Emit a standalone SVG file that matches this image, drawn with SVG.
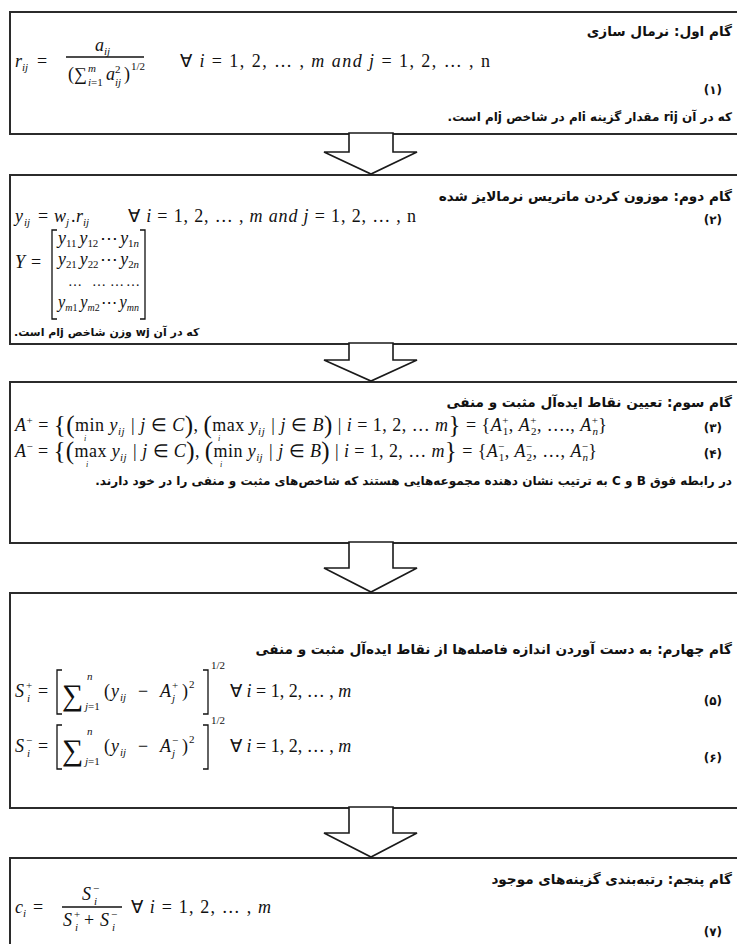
<svg xmlns="http://www.w3.org/2000/svg" width="737" height="944" viewBox="0 0 737 944">
<style>
.bg{fill:#fff}
.box{fill:none;stroke:#2b2b2b;stroke-width:2}
.arrow{fill:#fff;stroke:#1a1a1a;stroke-width:1.6;stroke-linejoin:miter}
.fa{font-family:"DejaVu Sans","Noto Sans",sans-serif;font-weight:bold;font-size:12px;fill:#111}
.t{font-size:13.6px}
.m{font-family:"Liberation Serif",serif;font-style:italic;font-size:18px;fill:#111}
.u{font-style:normal}
.s{font-size:11px}
.ss{font-size:8px}
.big{font-style:normal;font-size:25px}
.br{fill:none;stroke:#111;stroke-width:1.3}
</style>
<rect class="bg" x="0" y="0" width="737" height="944"/>

<g id="step1">
<rect class="box" x="10" y="12" width="740" height="122"/>
<text class="fa t" x="732" y="36" direction="rtl" text-anchor="start">گام اول: نرمال سازی</text>
<text class="m" x="15" y="67">r</text><text class="m s" x="22" y="71">ij</text>
<text class="m u" x="37" y="67">=</text>
<text class="m" x="95" y="51">a</text><text class="m s" x="104" y="55">ij</text>
<line class="br" x1="66" y1="57" x2="144" y2="57"/>
<text class="m u" x="68" y="80">(</text>
<text class="m u" x="74" y="80">∑</text>
<text class="m s" x="88" y="72">m</text>
<text class="m s" x="88" y="86">i<tspan class="u">=1</tspan></text>
<text class="m" x="106" y="80">a</text>
<text class="m s u" x="115" y="73">2</text>
<text class="m s" x="115" y="86">ij</text>
<text class="m u" x="124" y="80">)</text>
<text class="m s u" x="131" y="70">1/2</text>
<text class="m" x="180" y="67" textLength="310" lengthAdjust="spacing"><tspan class="u">∀</tspan> i <tspan class="u">= 1, 2, … ,</tspan> m  and  j <tspan class="u">= 1, 2, … , n</tspan></text>
<text class="fa" x="722" y="94" direction="rtl" text-anchor="start">(۱)</text>
<text class="fa" x="732" y="121" direction="rtl" text-anchor="start">که در آن rij مقدار گزینه iام در شاخص jام است.</text>
</g>

<g id="step2">
<rect class="box" x="10" y="175" width="740" height="169"/>
<text class="fa t" x="732" y="201" direction="rtl" text-anchor="start">گام دوم: موزون کردن ماتریس نرمالایز شده</text>
<text class="m" x="15" y="222">y</text><text class="m s" x="24" y="226">ij</text>
<text class="m u" x="38" y="222">=</text>
<text class="m" x="54" y="222">w</text><text class="m s" x="66" y="226">j</text>
<text class="m u" x="71" y="222">.</text>
<text class="m" x="76" y="222">r</text><text class="m s" x="83" y="226">ij</text>
<text class="m" x="128" y="222" textLength="288" lengthAdjust="spacing"><tspan class="u">∀</tspan> i <tspan class="u">= 1, 2, … ,</tspan> m  and  j <tspan class="u">= 1, 2, … , n</tspan></text>
<text class="fa" x="722" y="224" direction="rtl" text-anchor="start">(۲)</text>
<text class="m" x="15" y="268">Y</text><text class="m u" x="31" y="268">=</text>
<path class="br" d="M57,230 H52 V319 H57 M140,230 H145 V319 H140"/>
<text class="m" x="58" y="244" textLength="81" lengthAdjust="spacingAndGlyphs">y<tspan class="s u" dy="3">11</tspan><tspan dy="-3" dx="3">y</tspan><tspan class="s u" dy="3">12</tspan><tspan class="u" dy="-3" dx="2">⋯</tspan><tspan dx="2">y</tspan><tspan class="s" dy="3"><tspan class="u">1</tspan>n</tspan></text>
<text class="m" x="58" y="265" textLength="81" lengthAdjust="spacingAndGlyphs">y<tspan class="s u" dy="3">21</tspan><tspan dy="-3" dx="3">y</tspan><tspan class="s u" dy="3">22</tspan><tspan class="u" dy="-3" dx="2">⋯</tspan><tspan dx="2">y</tspan><tspan class="s" dy="3"><tspan class="u">2</tspan>n</tspan></text>
<text class="m u" x="68" y="286" style="font-size:14px">…</text>
<text class="m u" x="92" y="286" style="font-size:14px">…</text>
<text class="m u" x="110" y="286" style="font-size:14px">…</text>
<text class="m u" x="126" y="286" style="font-size:14px">…</text>
<text class="m" x="58" y="308" textLength="81" lengthAdjust="spacingAndGlyphs">y<tspan class="s" dy="3">m<tspan class="u">1</tspan></tspan><tspan dy="-3" dx="3">y</tspan><tspan class="s" dy="3">m<tspan class="u">2</tspan></tspan><tspan class="u" dy="-3" dx="2">⋯</tspan><tspan dx="2">y</tspan><tspan class="s" dy="3">mn</tspan></text>
<text class="fa" x="14" y="336" direction="rtl" text-anchor="end" style="font-size:11px">که در آن wj وزن شاخص jام است.</text>
</g>

<g id="step3">
<rect class="box" x="10" y="382" width="740" height="161"/>
<text class="fa t" x="732" y="407" direction="rtl" text-anchor="start">گام سوم: تعیین نقاط ایده‌آل مثبت و منفی</text>
<text class="m" x="15" y="431" textLength="592" lengthAdjust="spacing">A<tspan class="s u" dy="-7">+</tspan><tspan class="u" dy="7"> = </tspan><tspan class="big" dy="2">{(</tspan><tspan class="u" dy="-2">min</tspan> y<tspan class="s" dy="4">ij</tspan><tspan dy="-4"> |</tspan> j <tspan class="u">∈</tspan> C<tspan class="big" dy="2">)</tspan><tspan class="u" dy="-2">, </tspan><tspan class="big" dy="2">(</tspan><tspan class="u" dy="-2">max</tspan> y<tspan class="s" dy="4">ij</tspan><tspan dy="-4"> |</tspan> j <tspan class="u">∈</tspan> B<tspan class="big" dy="2">)</tspan><tspan class="u" dy="-2"> | </tspan>i <tspan class="u">= 1, 2, … </tspan>m<tspan class="big" dy="2">}</tspan><tspan class="u" dy="-2"> = {</tspan>A<tspan class="s u" dy="-7">+</tspan><tspan class="s u" dx="-6" dy="11">1</tspan><tspan class="u" dy="-4">, </tspan>A<tspan class="s u" dy="-7">+</tspan><tspan class="s u" dx="-6" dy="11">2</tspan><tspan class="u" dy="-4">, …., </tspan>A<tspan class="s u" dy="-7">+</tspan><tspan class="s" dx="-6" dy="11">n</tspan><tspan class="u" dy="-4">}</tspan></text>
<text class="m ss" x="84" y="441">i</text>
<text class="m ss" x="218" y="441">i</text>
<text class="fa" x="722" y="432" direction="rtl" text-anchor="start">(۳)</text>
<text class="m" x="15" y="457" textLength="582" lengthAdjust="spacing">A<tspan class="s u" dy="-7">−</tspan><tspan class="u" dy="7"> = </tspan><tspan class="big" dy="2">{(</tspan><tspan class="u" dy="-2">max</tspan> y<tspan class="s" dy="4">ij</tspan><tspan dy="-4"> |</tspan> j <tspan class="u">∈</tspan> C<tspan class="big" dy="2">)</tspan><tspan class="u" dy="-2">, </tspan><tspan class="big" dy="2">(</tspan><tspan class="u" dy="-2">min</tspan> y<tspan class="s" dy="4">ij</tspan><tspan dy="-4"> |</tspan> j <tspan class="u">∈</tspan> B<tspan class="big" dy="2">)</tspan><tspan class="u" dy="-2">  | </tspan>i <tspan class="u">= 1, 2, … </tspan>m<tspan class="big" dy="2">}</tspan><tspan class="u" dy="-2"> = {</tspan>A<tspan class="s u" dy="-7">−</tspan><tspan class="s u" dx="-6" dy="11">1</tspan><tspan class="u" dy="-4">, </tspan>A<tspan class="s u" dy="-7">−</tspan><tspan class="s u" dx="-6" dy="11">2</tspan><tspan class="u" dy="-4">, …, </tspan>A<tspan class="s u" dy="-7">−</tspan><tspan class="s" dx="-6" dy="11">n</tspan><tspan class="u" dy="-4">}</tspan></text>
<text class="m ss" x="86" y="467">i</text>
<text class="m ss" x="220" y="467">i</text>
<text class="fa" x="722" y="458" direction="rtl" text-anchor="start">(۴)</text>
<text class="fa" x="732" y="485" direction="rtl" text-anchor="start">در رابطه فوق B و C به ترتیب نشان دهنده مجموعه‌هایی هستند که شاخص‌های مثبت و منفی را در خود دارند.</text>
</g>

<g id="step4">
<rect class="box" x="10" y="593" width="740" height="215"/>
<text class="fa t" x="732" y="654" direction="rtl" text-anchor="start">گام چهارم: به دست آوردن اندازه فاصله‌ها از نقاط ایده‌آل مثبت و منفی</text>
<text class="m" x="15" y="697">S</text><text class="m s u" x="26" y="689">+</text><text class="m s" x="27" y="702">i</text>
<text class="m u" x="38" y="697">=</text>
<path class="br" d="M62,670 H57 V714 H62 M203,670 H208 V714 H203"/>
<text class="m u" x="62" y="705" style="font-size:30px">∑</text>
<text class="m s" x="87" y="680">n</text>
<text class="m s" x="85" y="710">j<tspan class="u">=1</tspan></text>
<text class="m u" x="104" y="697">(</text>
<text class="m" x="111" y="697">y</text><text class="m s" x="120" y="701">ij</text>
<text class="m u" x="138" y="697">−</text>
<text class="m" x="160" y="697">A</text><text class="m s u" x="172" y="689">+</text><text class="m s" x="172" y="702">j</text>
<text class="m u" x="182" y="697">)</text><text class="m s u" x="189" y="688">2</text>
<text class="m s u" x="211" y="669">1/2</text>
<text class="m" x="230" y="697"><tspan class="u">∀</tspan> i <tspan class="u">= 1, 2, … ,</tspan> m</text>
<text class="fa" x="722" y="705" direction="rtl" text-anchor="start">(۵)</text>
<text class="m" x="15" y="752">S</text><text class="m s u" x="26" y="744">−</text><text class="m s" x="27" y="757">i</text>
<text class="m u" x="38" y="752">=</text>
<path class="br" d="M62,725 H57 V769 H62 M203,725 H208 V769 H203"/>
<text class="m u" x="62" y="760" style="font-size:30px">∑</text>
<text class="m s" x="87" y="735">n</text>
<text class="m s" x="85" y="765">j<tspan class="u">=1</tspan></text>
<text class="m u" x="104" y="752">(</text>
<text class="m" x="111" y="752">y</text><text class="m s" x="120" y="756">ij</text>
<text class="m u" x="138" y="752">−</text>
<text class="m" x="160" y="752">A</text><text class="m s u" x="172" y="744">−</text><text class="m s" x="172" y="757">j</text>
<text class="m u" x="182" y="752">)</text><text class="m s u" x="189" y="743">2</text>
<text class="m s u" x="211" y="724">1/2</text>
<text class="m" x="230" y="752"><tspan class="u">∀</tspan> i <tspan class="u">= 1, 2, … ,</tspan> m</text>
<text class="fa" x="722" y="762" direction="rtl" text-anchor="start">(۶)</text>
</g>

<g id="step5">
<rect class="box" x="10" y="858" width="740" height="100"/>
<text class="fa t" x="732" y="884" direction="rtl" text-anchor="start">گام پنجم: رتبه‌بندی گزینه‌های موجود</text>
<text class="m" x="15" y="913">c</text><text class="m s" x="23" y="917">i</text>
<text class="m u" x="33" y="913">=</text>
<text class="m" x="82" y="900">S</text><text class="m s u" x="93" y="892">−</text><text class="m s" x="94" y="905">i</text>
<line class="br" x1="62" y1="907" x2="122" y2="907"/>
<text class="m" x="63" y="926">S</text><text class="m s u" x="74" y="918">+</text><text class="m s" x="75" y="931">i</text>
<text class="m u" x="84" y="926">+</text>
<text class="m" x="100" y="926">S</text><text class="m s u" x="111" y="918">−</text><text class="m s" x="112" y="931">i</text>
<text class="m" x="131" y="913" textLength="140" lengthAdjust="spacing"><tspan class="u">∀</tspan>  i <tspan class="u">= 1, 2, … ,</tspan> m</text>
<text class="fa" x="722" y="936" direction="rtl" text-anchor="start">(۷)</text>
</g>

<g id="connectors">
<polygon class="arrow" points="349,133 393,133 393,152 417,152 371,174 324,152 349,152"/>
<polygon class="arrow" points="349,343 393,343 393,360 417,360 371,381 324,360 349,360"/>
<polygon class="arrow" points="349,542 393,542 393,568 417,568 371,592 324,568 349,568"/>
<polygon class="arrow" points="349,807 393,807 393,833 417,833 371,857 324,833 349,833"/>
</g>
</svg>
